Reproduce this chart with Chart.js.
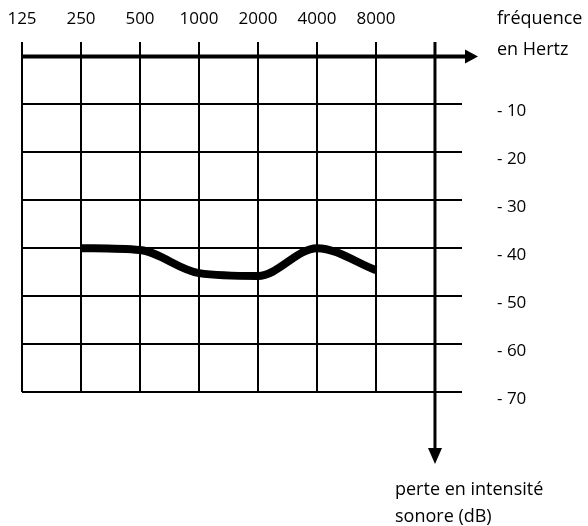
<!DOCTYPE html>
<html>
<head>
<meta charset="utf-8">
<script src="https://cdn.jsdelivr.net/npm/chart.js@4"></script>
<style>
  html, body { margin: 0; padding: 0; background: #fff; }
  #box { width: 588px; height: 526px; }
</style>
</head>
<body>
<div id="box"><canvas id="audiogramme" width="588" height="526"></canvas></div>
<script>
// frequences (Hz) des lignes verticales
const frequences = [125, 250, 500, 1000, 2000, 4000, 8000];
// courbe mesuree
const freqMesure = [250, 500, 1000, 2000, 4000, 8000];
const perteMesure = [-40, -40.4, -45.2, -45.8, -40, -44.6];
// graduations en dB
const graduationsDb = [-10, -20, -30, -40, -50, -60, -70];
const freqAxe = 16000; // position de l'axe vertical
const titreX = ['fréquence', 'en Hertz'];
const titreY = ['perte en intensité', 'sonore (dB)'];

const police = '"Open Sans", sans-serif';

// dessine les deux axes avec fleches + les titres
const axesPlugin = {
  id: 'axes',
  afterDraw(chart) {
    const c = chart.ctx;
    const x = chart.scales.x, y = chart.scales.y;
    const area = chart.chartArea;
    const y0 = y.getPixelForValue(0);
    const xa = x.getPixelForValue(freqAxe);
    c.save();
    c.fillStyle = '#000';
    c.strokeStyle = '#000';

    // axe horizontal
    c.lineWidth = 4;
    c.beginPath();
    c.moveTo(area.left - 1, y0);
    c.lineTo(468, y0);
    c.stroke();
    c.beginPath();
    c.moveTo(478, y0);
    c.lineTo(465, y0 - 7);
    c.lineTo(465, y0 + 7);
    c.closePath();
    c.fill();

    // axe vertical
    c.lineWidth = 3;
    c.beginPath();
    c.moveTo(xa, area.top);
    c.lineTo(xa, 450);
    c.stroke();
    c.beginPath();
    c.moveTo(xa, 464);
    c.lineTo(xa - 7, 448);
    c.lineTo(xa + 7, 448);
    c.closePath();
    c.fill();

    c.font = '18px ' + police;
    c.textAlign = 'left';
    c.textBaseline = 'middle';
    c.fillText(titreX[0], 497, 19);
    c.fillText(titreX[1], 497, 50);
    c.fillText(titreY[0], 395, 490);
    c.fillText(titreY[1], 395, 517);
    c.restore();
  }
};

new Chart(document.getElementById('audiogramme'), {
  type: 'line',
  data: {
    datasets: [{
      data: freqMesure.map((f, i) => ({ x: f, y: perteMesure[i] })),
      borderColor: '#000',
      borderWidth: 8,
      borderJoinStyle: 'round',
      pointRadius: 0,
      cubicInterpolationMode: 'monotone',
      fill: false
    }]
  },
  options: {
    responsive: false,
    animation: false,
    layout: { padding: { left: 22, top: 0, right: 0, bottom: 134 } },
    plugins: { legend: { display: false }, tooltip: { enabled: false } },
    scales: {
      x: {
        type: 'logarithmic',
        position: 'top',
        min: 125,
        max: 21980,
        afterBuildTicks: (s) => { s.ticks = frequences.map(v => ({ value: v })); },
        afterFit: (s) => { s.height = 42; s.paddingLeft = 0; s.paddingRight = 0; },
        border: { display: false },
        grid: { color: '#000', lineWidth: 2, drawTicks: false },
        ticks: {
          color: '#000',
          font: { family: police, size: 17 },
          padding: 13,
          maxRotation: 0,
          autoSkip: false,
          callback: (v) => String(v)
        }
      },
      y: {
        type: 'linear',
        position: 'right',
        min: -70,
        max: 3,
        afterBuildTicks: (s) => { s.ticks = graduationsDb.map(v => ({ value: v })); },
        afterFit: (s) => { s.width = 126; s.paddingTop = 0; s.paddingBottom = 0; },
        border: { display: false },
        grid: { color: '#000', lineWidth: 2, drawTicks: false },
        ticks: {
          color: '#000',
          font: { family: police, size: 17 },
          padding: 35,
          labelOffset: 7,
          crossAlign: 'near',
          callback: (v) => '- ' + Math.abs(v)
        }
      }
    }
  },
  plugins: [axesPlugin]
});
</script>
</body>
</html>
